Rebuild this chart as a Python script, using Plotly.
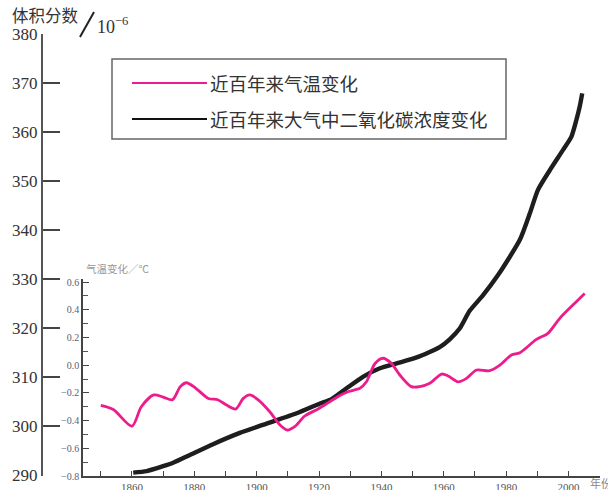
import plotly.graph_objects as go

# ---- data ----
temp_years = [1850, 1854, 1860, 1863, 1867, 1870, 1873, 1875.5, 1877.5, 1880.5,
              1884.5, 1887.5, 1890.5, 1893.3, 1895.7, 1897.8, 1900.5, 1904.2, 1907.4, 1909.8,
              1912.2, 1915.4, 1919.7, 1923, 1926.5, 1929.5, 1933.1, 1935.2, 1937.9, 1940.5,
              1943.2, 1945.9, 1949.6, 1952.3, 1955.5, 1959.3, 1961.4, 1964.6, 1967.3, 1970.5,
              1974.7, 1978, 1981.7, 1984.4, 1989.7, 1993.4, 1997.2, 2001.4, 2005.2]
temp_values = [-0.29, -0.32, -0.44, -0.30, -0.215, -0.23, -0.25, -0.155, -0.127, -0.167,
               -0.24, -0.25, -0.29, -0.316, -0.24, -0.215, -0.25, -0.336, -0.43, -0.468,
               -0.444, -0.367, -0.316, -0.27, -0.22, -0.19, -0.167, -0.12, 0.01, 0.05,
               0.013, -0.071, -0.155, -0.155, -0.131, -0.064, -0.078, -0.12, -0.095, -0.035,
               -0.04, 0.0, 0.073, 0.09, 0.186, 0.23, 0.338, 0.434, 0.518]

co2_years = [1860.4, 1864.7, 1870, 1873.2, 1878.6, 1886, 1894.6, 1903.2, 1912.8, 1920.3,
             1924, 1928.8, 1934.2, 1939.5, 1944.9, 1951.3, 1958.7, 1961.9, 1965.1, 1968.3,
             1972.6, 1977.4, 1984.4, 1987.6, 1990.2, 1994, 1998.2, 2000.9, 2002.5, 2003.6, 2004.4]
co2_values = [290.5, 290.8, 291.8, 292.5, 294.1, 296.3, 298.6, 300.5, 302.6, 304.6,
              305.5, 307.7, 310.1, 311.8, 312.8, 314.0, 316.1, 317.7, 319.9, 323.5,
              326.7, 330.8, 338.0, 343.4, 348.2, 352.2, 356.3, 359.0, 362.4, 365.2, 367.9]

co2_ticks = [290, 300, 310, 320, 330, 340, 350, 360, 370, 380]
temp_ticks = [-0.8, -0.6, -0.4, -0.2, 0.0, 0.2, 0.4, 0.6]
year_ticks = [1860, 1880, 1900, 1920, 1940, 1960, 1980, 2000]

legend_labels = ["近百年来气温变化", "近百年来大气中二氧化碳浓度变化"]
pink = "#ec1c8c"
black = "#1e1e1e"

# ---- layout geometry (pixels) ----
W, H = 608, 490
ML, MR, MT, MB = 42, 8, 34, 14
PW, PH = W - ML - MR, H - MT - MB


def px(x):
    return (x - ML) / PW


def py(y):
    return (H - MB - y) / PH


fig = go.Figure()
fig.add_trace(go.Scatter(x=temp_years, y=temp_values, mode="lines", xaxis="x", yaxis="y2",
                         line=dict(color=pink, width=2.8, shape="spline", smoothing=0.8),
                         name=legend_labels[0], showlegend=False, hoverinfo="skip",
                         cliponaxis=False))
fig.add_trace(go.Scatter(x=co2_years, y=co2_values, mode="lines", xaxis="x", yaxis="y",
                         line=dict(color=black, width=4.4, shape="spline", smoothing=0.6),
                         name=legend_labels[1], showlegend=False, hoverinfo="skip"))

serif = "Liberation Serif, Times New Roman, serif"
cjk = "Noto Sans CJK SC"

fig.update_layout(
    width=W, height=H,
    margin=dict(l=ML, r=MR, t=MT, b=MB, autoexpand=False),
    paper_bgcolor="white", plot_bgcolor="rgba(0,0,0,0)",
    showlegend=False,
    xaxis=dict(domain=[px(83), 1], range=[1844.3, 2010.1], anchor="y2",
               showgrid=False, zeroline=False,
               showline=True, linecolor="#444", linewidth=1.5,
               tickvals=year_ticks, ticks="inside", ticklen=5, tickwidth=1.3, tickcolor="#444",
               minor=dict(dtick=10, tick0=1850, ticks="inside", ticklen=5, tickwidth=1.3, tickcolor="#444"),
               tickfont=dict(family=serif, size=11, color="#555"), ticklabelstandoff=0,
               automargin=False),
    yaxis=dict(domain=[0, 1], range=[289.8, 380], anchor="free", position=0,
               showgrid=False, zeroline=False,
               showline=True, linecolor="#555", linewidth=2,
               tickvals=co2_ticks, ticks="inside", ticklen=17, tickwidth=1.5, tickcolor="#444",
               tickfont=dict(family=serif, size=17, color="#333"), automargin=False),
    yaxis2=dict(domain=[0, py(279)], range=[-0.8, 0.622], anchor="x",
                showgrid=False, zeroline=False,
                showline=True, linecolor="#444", linewidth=1.5,
                tickvals=temp_ticks, tickformat=".1f", ticks="inside", ticklen=6, tickwidth=1.2,
                tickcolor="#444",
                minor=dict(dtick=0.1, tick0=-0.8, ticks="inside", ticklen=5, tickwidth=1, tickcolor="#555"),
                tickfont=dict(family=serif, size=10, color="#5a6070"), automargin=False),
)

shapes = [
    # legend box
    dict(type="rect", xref="paper", yref="paper", x0=px(112), x1=px(506), y0=py(139), y1=py(59),
         line=dict(color="#666", width=1.5), fillcolor="rgba(0,0,0,0)"),
    dict(type="line", xref="paper", yref="paper", x0=px(132), x1=px(207), y0=py(83), y1=py(83),
         line=dict(color=pink, width=2)),
    dict(type="line", xref="paper", yref="paper", x0=px(132), x1=px(207), y0=py(119), y1=py(119),
         line=dict(color="#111", width=2)),
    # slash in unit label
    dict(type="line", xref="paper", yref="paper", x0=px(80), x1=px(94), y0=py(37), y1=py(12),
         line=dict(color="#222", width=2)),
]
fig.update_layout(shapes=shapes)

annotations = [
    dict(text=legend_labels[0], x=px(208), y=py(83), xanchor="left", yanchor="middle",
         font=dict(family=cjk, size=18.5, color="#333")),
    dict(text=legend_labels[1], x=px(208), y=py(119), xanchor="left", yanchor="middle",
         font=dict(family=cjk, size=18.5, color="#333")),
    dict(text="体积分数", x=px(10), y=py(15), xanchor="left", yanchor="middle",
         font=dict(family=cjk, size=16.5, color="#333")),
    dict(text="10<sup>−6</sup>", x=px(95), y=py(25), xanchor="left", yanchor="middle",
         font=dict(family=serif, size=18, color="#333")),
    dict(text="气温变化／℃", x=px(84), y=py(268), xanchor="left", yanchor="middle",
         font=dict(family=cjk, size=10.5, color="#999")),
    dict(text="年份", x=px(588), y=py(483), xanchor="left", yanchor="middle",
         font=dict(family=cjk, size=11, color="#888")),
]
for a in annotations:
    a.update(xref="paper", yref="paper", showarrow=False)
fig.update_layout(annotations=annotations)

fig.write_html("out.html")
